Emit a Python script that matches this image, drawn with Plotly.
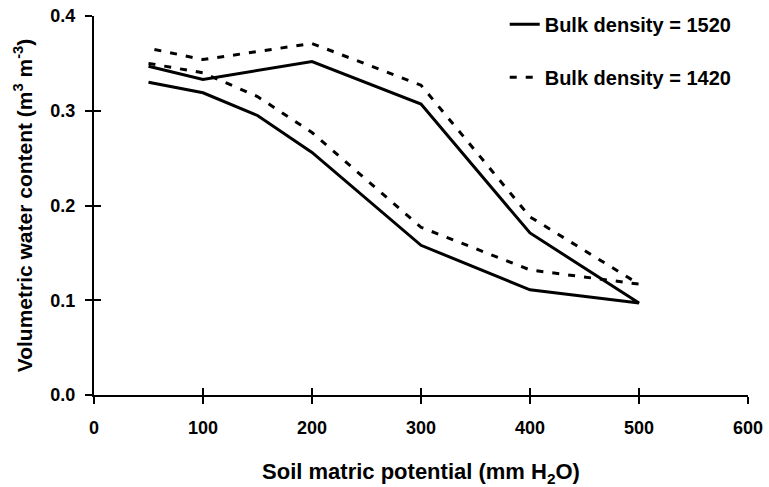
import plotly.graph_objects as go

# Soil matric potential (mm H2O)
potential_wet = [50, 100, 150, 200, 300, 400, 500]
potential_dry = [500, 400, 300, 200, 100, 50]

# Volumetric water content, bulk density 1520
theta_1520_wet = [0.330, 0.319, 0.295, 0.256, 0.158, 0.111, 0.097]
theta_1520_dry = [0.097, 0.171, 0.307, 0.352, 0.333, 0.347]

# Volumetric water content, bulk density 1420
theta_1420_wet = [0.350, 0.340, 0.315, 0.277, 0.177, 0.132, 0.117]
theta_1420_dry = [0.117, 0.188, 0.327, 0.371, 0.354, 0.366]

series_names = ["Bulk density = 1520", "Bulk density = 1420"]

FONT = "Liberation Sans, Arial, sans-serif"

fig = go.Figure()

fig.add_trace(go.Scatter(
    x=potential_wet + potential_dry,
    y=theta_1520_wet + theta_1520_dry,
    mode="lines", name=series_names[0], legendgroup="a",
    line=dict(color="black", width=3),
))
fig.add_trace(go.Scatter(
    x=potential_wet + potential_dry,
    y=theta_1420_wet + theta_1420_dry,
    mode="lines", name=series_names[1], legendgroup="b",
    line=dict(color="black", width=3, dash="7px,9px"),
))

axis_common = dict(
    showgrid=False, zeroline=False, showline=True, linecolor="black",
    linewidth=2, ticks="outside", ticklen=7, tickwidth=1.5, tickcolor="black",
    tickfont=dict(family=FONT, size=18, color="black", weight="bold"),
)

fig.update_layout(
    width=769, height=487,
    margin=dict(l=94, r=21, t=16, b=92, autoexpand=False),
    plot_bgcolor="white", paper_bgcolor="white",
    font=dict(family=FONT, size=18, color="black", weight="bold"),
    xaxis=dict(
        range=[0, 600], tickmode="linear", tick0=0, dtick=100,
        ticklabelstandoff=8, automargin=False,
        title=dict(text="Soil matric potential (mm H<sub>2</sub>O)", standoff=28,
                   font=dict(family=FONT, size=22, color="black", weight="bold")),
        **axis_common,
    ),
    yaxis=dict(
        range=[0, 0.4], tickmode="linear", tick0=0, dtick=0.1, tickformat=".1f",
        ticklabelstandoff=6, automargin=False,
        title=dict(text="Volumetric water content (m<sup>3</sup> m<sup>-3</sup>)", standoff=12,
                   font=dict(family=FONT, size=21, color="black", weight="bold")),
        **axis_common,
    ),
    # overlay axes to give ticks that cross the axis lines
    xaxis2=dict(range=[0, 600], tickmode="linear", tick0=0, dtick=100, overlaying="x",
                ticks="inside", ticklen=7, tickwidth=1.5, tickcolor="black",
                showticklabels=False, showgrid=False, zeroline=False, side="bottom"),
    yaxis2=dict(range=[0, 0.4], tickmode="linear", tick0=0, dtick=0.1, overlaying="y",
                ticks="inside", ticklen=7, tickwidth=1.5, tickcolor="black",
                showticklabels=False, showgrid=False, zeroline=False, side="left"),
    showlegend=True,
    legend=dict(x=0.628, y=1.03, xanchor="left", yanchor="top",
                bgcolor="rgba(0,0,0,0)", tracegroupgap=24,
                font=dict(family=FONT, size=20, color="black", weight="bold")),
)

# invisible trace to activate the overlay axes
fig.add_trace(go.Scatter(x=[None], y=[None], xaxis="x2", yaxis="y2",
                         showlegend=False, hoverinfo="skip"))

fig.write_html("out.html")
